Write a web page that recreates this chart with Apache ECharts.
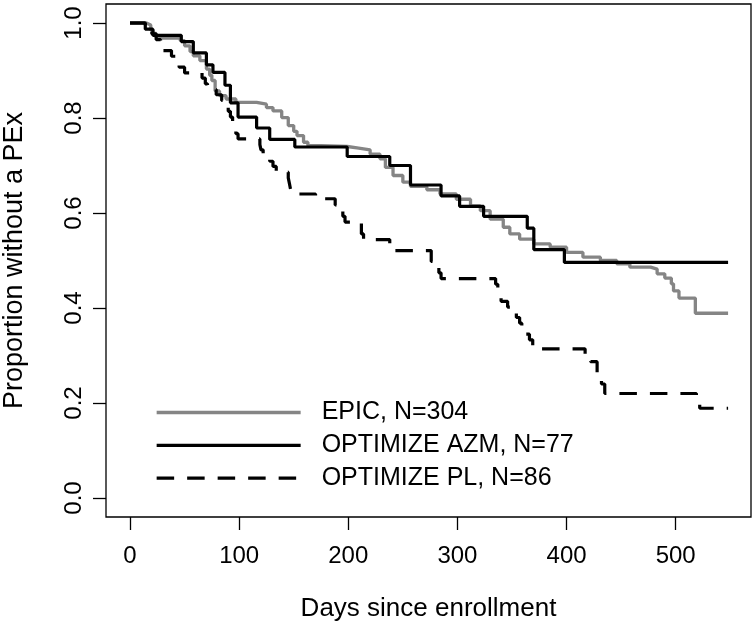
<!DOCTYPE html>
<html>
<head>
<meta charset="utf-8">
<script src="https://cdn.jsdelivr.net/npm/echarts@6/dist/echarts.min.js"></script>
<style>html,body{margin:0;padding:0;background:#fff}#c{width:754px;height:627px}</style>
</head>
<body>
<div id="c"></div>
<script>
// EPIC, N=304 (grey, solid)
const epicDays = [0,15,19,21,24,46,50,55,58,64,70,73,75,78,82,88,97,116,125,131,139,145,150,153,159,163,175,199,208,220,229,234,241,250,257,272,284,299,312,321,330,342,348,357,370,385,400,415,431,446,458,477,483,490,496,498,503,518,548];
const epicSurv = [1.0,0.996,0.985,0.978,0.968,0.963,0.952,0.940,0.931,0.921,0.903,0.890,0.879,0.857,0.847,0.840,0.833,0.829,0.822,0.815,0.801,0.784,0.772,0.763,0.749,0.742,0.740,0.737,0.733,0.724,0.714,0.696,0.679,0.665,0.656,0.649,0.640,0.629,0.615,0.605,0.587,0.570,0.556,0.545,0.535,0.528,0.517,0.507,0.500,0.493,0.486,0.482,0.472,0.463,0.451,0.436,0.421,0.389,0.389];
// OPTIMIZE AZM, N=77 (black, solid)
const azmDays = [0,14,21,47,58,70,76,87,92,99,116,128,151,199,238,257,285,302,324,364,370,398,548];
const azmSurv = [1.0,0.987,0.974,0.961,0.937,0.912,0.896,0.869,0.832,0.802,0.779,0.755,0.739,0.719,0.700,0.659,0.636,0.614,0.593,0.568,0.523,0.496,0.496];
// OPTIMIZE PL, N=86 (black, dashed)
const plDays = [0,14,20,24,28,38,45,50,66,69,71,79,84,90,92,94,95,97,99,119,120,122,128,131,134,145,146,147,148,170,188,191,195,197,212,214,238,240,276,280,283,285,335,337,338,340,346,350,354,357,359,362,366,369,371,417,422,428,432,435,519,522,548];
const plSurv = [1.0,0.988,0.977,0.965,0.942,0.930,0.907,0.895,0.884,0.872,0.860,0.849,0.837,0.814,0.802,0.791,0.779,0.767,0.756,0.744,0.733,0.721,0.709,0.698,0.686,0.674,0.663,0.651,0.640,0.630,0.617,0.605,0.593,0.581,0.556,0.544,0.533,0.521,0.498,0.486,0.474,0.462,0.450,0.438,0.426,0.414,0.402,0.391,0.380,0.368,0.356,0.345,0.333,0.321,0.314,0.299,0.287,0.260,0.240,0.220,0.205,0.189,0.189];

const seriesNames = ['EPIC, N=304', 'OPTIMIZE AZM, N=77', 'OPTIMIZE PL, N=86'];
const xTicks = [0,100,200,300,400,500];
const yTicks = [0,0.2,0.4,0.6,0.8,1.0];

const pairs = (xs, ys) => xs.map((x, i) => [x, ys[i]]);
const FONT = 'Liberation Sans, Arial, Helvetica, sans-serif';

const chart = echarts.init(document.getElementById('c'), null, {renderer: 'canvas'});
chart.setOption({
  animation: false,
  backgroundColor: '#fff',
  grid: {left: 106, right: 3, top: 4, bottom: 110, show: true, borderColor: '#000', borderWidth: 1.3,
    backgroundColor: 'transparent', containLabel: false, outerBoundsMode: 'none'},
  xAxis: {
    type: 'value', min: -22, max: 569,
    axisLine: {show: false, onZero: false},
    splitLine: {show: false},
    axisTick: {show: true, customValues: xTicks, length: 13, lineStyle: {color: '#000', width: 1.3}},
    axisLabel: {customValues: xTicks, fontSize: 24, margin: 27, color: '#000', fontFamily: FONT},
    name: 'Days since enrollment', nameLocation: 'middle', nameGap: 79,
    nameTextStyle: {fontSize: 26, color: '#000', fontFamily: FONT}
  },
  yAxis: {
    type: 'value', min: -0.04, max: 1.04,
    axisLine: {show: false, onZero: false},
    splitLine: {show: false},
    axisTick: {show: true, customValues: yTicks, length: 13, lineStyle: {color: '#000', width: 1.3}},
    axisLabel: {customValues: yTicks, rotate: 90, fontSize: 24, margin: 20, color: '#000', fontFamily: FONT,
      formatter: v => Number(v).toFixed(1)},
    name: 'Proportion without a PEx', nameLocation: 'middle', nameRotate: 90, nameGap: 78,
    nameTextStyle: {fontSize: 27, color: '#000', fontFamily: FONT}
  },
  legend: {
    show: true, orient: 'vertical', left: 155, top: 400, padding: 0,
    itemWidth: 144, itemHeight: 24, itemGap: 7.8,
    data: seriesNames,
    itemStyle: {opacity: 0},
    lineStyle: {width: 3.3},
    textStyle: {fontSize: 25, color: '#000', fontFamily: FONT, padding: [0, 0, 0, 16]}
  },
  series: [
    {name: seriesNames[0], type: 'line', step: 'end', showSymbol: false, symbol: 'none', z: 2,
      lineStyle: {color: '#858585', width: 3.3}, itemStyle: {color: '#858585'}, data: pairs(epicDays, epicSurv)},
    {name: seriesNames[1], type: 'line', step: 'end', showSymbol: false, symbol: 'none', z: 3,
      lineStyle: {color: '#000', width: 3.2}, itemStyle: {color: '#000'}, data: pairs(azmDays, azmSurv)},
    {name: seriesNames[2], type: 'line', step: 'end', showSymbol: false, symbol: 'none', z: 3,
      lineStyle: {color: '#000', width: 3.2, type: [17.5, 13]}, itemStyle: {color: '#000'}, data: pairs(plDays, plSurv)}
  ]
});
</script>
</body>
</html>
